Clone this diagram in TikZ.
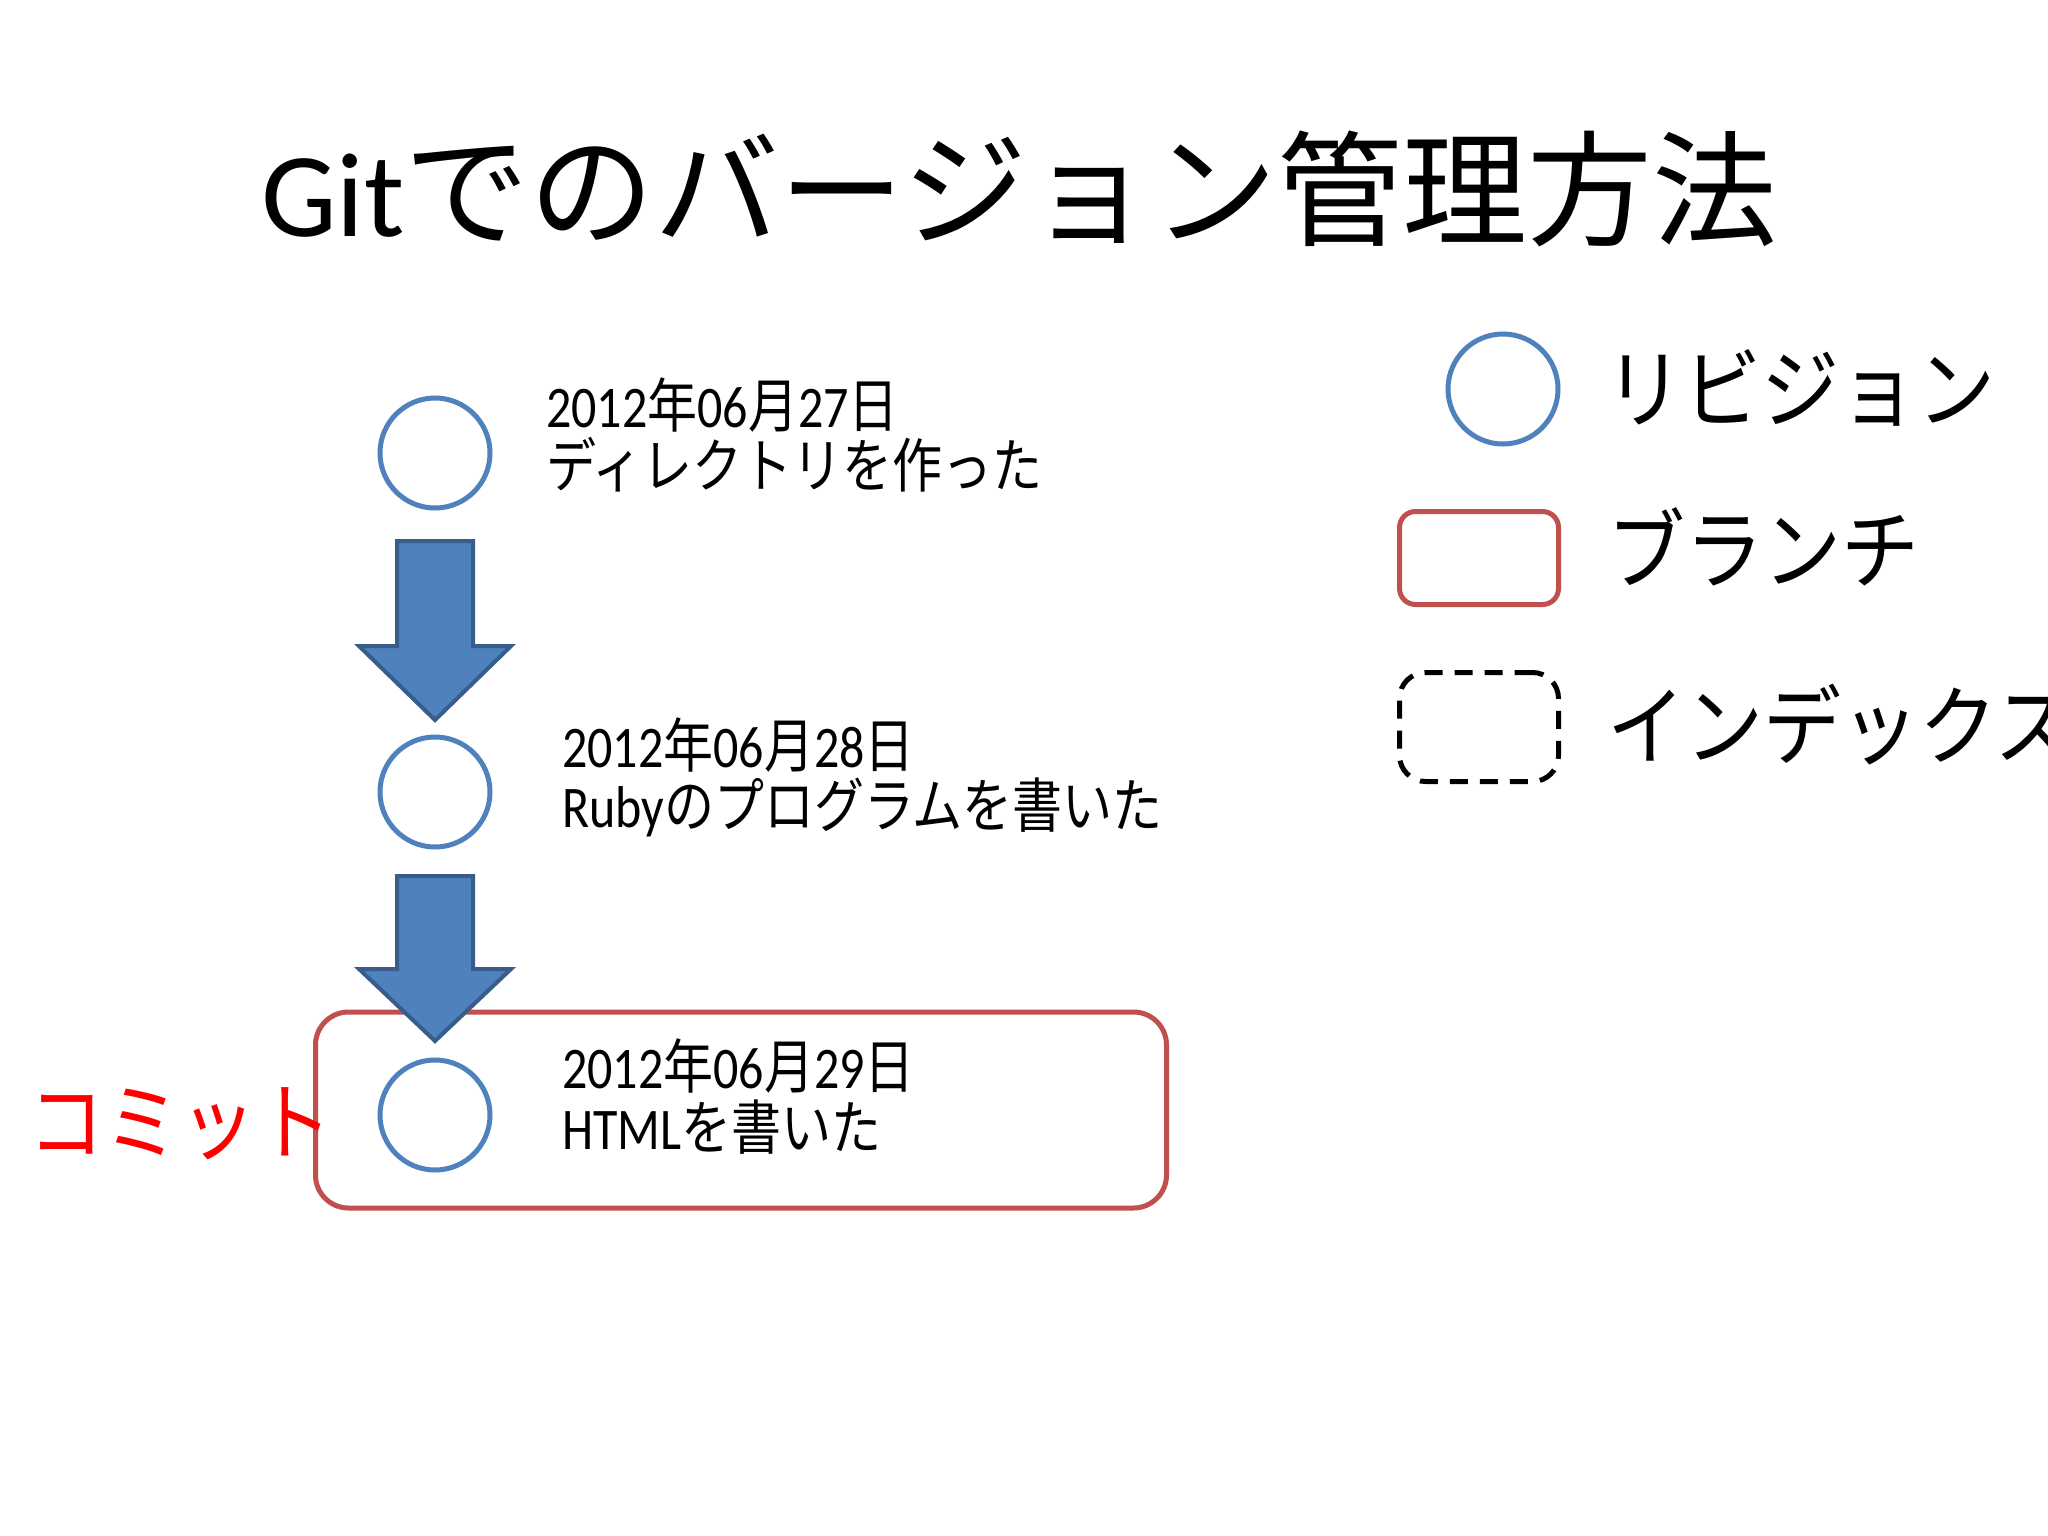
\documentclass[tikz,border=0pt]{standalone}
\usepackage{fontspec}
\setmainfont{Carlito}
\newfontfamily\jp{Noto Sans CJK JP}
\definecolor{revblue}{HTML}{4F81BD}
\definecolor{arrowedge}{HTML}{385D8A}
\definecolor{branchred}{HTML}{C0504D}
\newcommand{\vstretch}[2]{\scalebox{1}[#1]{#2}}
\begin{document}
\begin{tikzpicture}[x=1pt,y=-1pt,
  revision/.style={draw=revblue, line width=5pt, circle, minimum size=110pt, inner sep=0pt},
  branchbox/.style={draw=branchred, line width=5pt, rectangle, rounded corners=#1, inner sep=0pt},
  indexbox/.style={draw=black, line width=5pt, dash pattern=on 18pt off 12pt, rectangle, rounded corners=26pt, inner sep=0pt},
  blockarrow/.style={fill=revblue, draw=arrowedge, line width=4pt, line join=miter},
  bodytext/.style={anchor=base west, inner sep=0pt, font=\fontsize{50pt}{60pt}\selectfont},
  legendtext/.style={anchor=base west, inner sep=0pt, font=\fontsize{78pt}{92pt}\selectfont\jp},
]
\useasboundingbox (0,0) rectangle (2048,1536);
\fill[white] (0,0) rectangle (2048,1536);

% title
\node[anchor=base west, inner sep=0pt, font=\fontsize{120pt}{140pt}\selectfont] (title) at (261,236) {Git{\fontsize{125pt}{140pt}\selectfont\jp でのバージョン管理方法}};

% branch box
\node[branchbox=33pt, minimum width=851pt, minimum height=196pt] (branch) at (741,1110) {};

% arrows
\draw[blockarrow] (397,541) -- (473,541) -- (473,646) -- (511,646) -- (435,720) -- (359,646) -- (397,646) -- cycle;
\draw[blockarrow] (397,876) -- (473,876) -- (473,969) -- (511,969) -- (435,1041) -- (359,969) -- (397,969) -- cycle;

% revisions
\node[revision] (r1) at (435,453) {};
\node[revision] (r2) at (435,792) {};
\node[revision] (r3) at (435,1115) {};

% revision texts
\node[bodytext] (d1) at (546,427) {\vstretch{1.18}{2012{\jp 年}06{\jp 月}27{\jp 日}}};
\node[bodytext] (m1) at (546,487) {\vstretch{1.18}{\jp ディレクトリを作った}};
\node[bodytext] (d2) at (562,767) {\vstretch{1.18}{2012{\jp 年}06{\jp 月}28{\jp 日}}};
\node[bodytext] (m2) at (562,827) {\vstretch{1.18}{Ruby{\jp のプログラムを書いた}}};
\node[bodytext] (d3) at (562,1088) {\vstretch{1.18}{2012{\jp 年}06{\jp 月}29{\jp 日}}};
\node[bodytext] (m3) at (562,1149) {\vstretch{1.18}{HTML{\jp を書いた}}};

% commit label
\node[anchor=base west, inner sep=0pt, text=red, font=\fontsize{76pt}{90pt}\selectfont\jp] (commit) at (28,1153) {\vstretch{1.12}{コミット}};

% legend
\node[revision] (lr) at (1503,389) {};
\node[branchbox=16pt, minimum width=159pt, minimum height=93pt] (lb) at (1479,558) {};
\node[indexbox, minimum width=159pt, minimum height=109pt] (li) at (1479,727) {};
\node[legendtext] (lrt) at (1605,421) {\vstretch{1.12}{リビジョン}};
\node[legendtext] (lbt) at (1607,582) {\vstretch{1.12}{ブランチ}};
\node[legendtext] (lit) at (1607,758) {\vstretch{1.12}{インデックス}};
\end{tikzpicture}
\end{document}
